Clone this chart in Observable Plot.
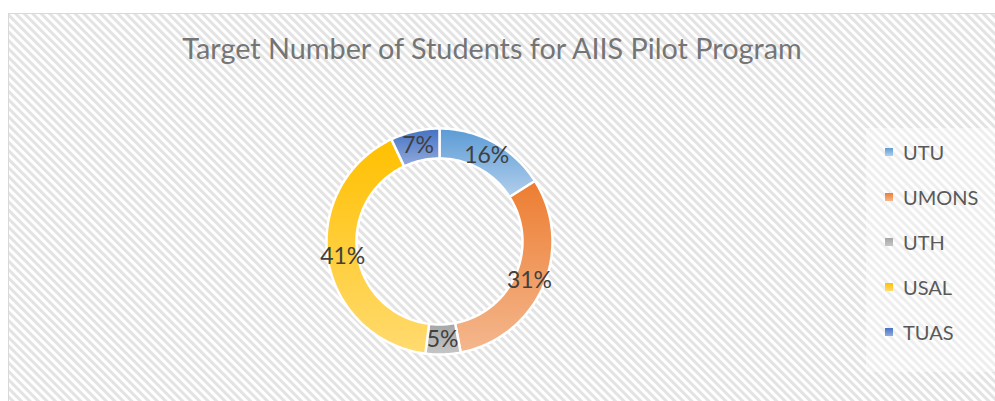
<!DOCTYPE html>
<html>
<head>
<meta charset="utf-8">
<script src="https://cdn.jsdelivr.net/npm/d3@7"></script>
<script src="https://cdn.jsdelivr.net/npm/@observablehq/plot@0.6"></script>
<style>
  body { margin: 0; background: #fff; }
  #wrap { position: relative; width: 995px; height: 401px; overflow: hidden; font-family: Lato, "Open Sans", sans-serif; }
  #legend { position: absolute; left: 885px; top: 129px; }
  .item { height: 45px; display: flex; align-items: center; }
  .sw { width: 8px; height: 8px; margin-right: 10px; }
  .lab { font-size: 20px; color: #595959; line-height: 1; }
</style>
</head>
<body>
<div id="wrap"><div id="legend"></div></div>
<script>
const categories = ["UTU", "UMONS", "UTH", "USAL", "TUAS"];
const shares = [16, 31, 5, 41, 7];
const baseColors = ["#5B9BD5", "#ED7D31", "#A5A5A5", "#FFC000", "#4472C4"];
const lightColors = ["#B2CFEC", "#F4B78E", "#C6C6C6", "#FFDB70", "#92AADC"];
const title = "Target Number of Students for AIIS Pilot Program";

const total = d3.sum(shares);
const arcs = d3.pie().sort(null).value(d => d)(shares);
const inner = 83 / 113;

const pts = [];
const labelData = [];
arcs.forEach((p, i) => {
  const span = p.endAngle - p.startAngle;
  const n = Math.max(4, Math.ceil(span / 0.02));
  const ring = [];
  for (let k = 0; k <= n; k++) { const a = p.startAngle + span * k / n; ring.push([Math.sin(a), Math.cos(a)]); }
  for (let k = n; k >= 0; k--) { const a = p.startAngle + span * k / n; ring.push([inner * Math.sin(a), inner * Math.cos(a)]); }
  ring.push(ring[0]);
  ring.forEach(([x, y]) => pts.push({cat: categories[i], x, y}));
  const mid = (p.startAngle + p.endAngle) / 2;
  const rm = (1 + inner) / 2;
  labelData.push({x: rm * Math.sin(mid), y: rm * Math.cos(mid), label: Math.round(100 * shares[i] / total) + "%"});
});

const defsMark = () => {
  const g = d3.create("svg:g");
  const defs = g.append("defs");
  const pat = defs.append("pattern").attr("id", "hatch").attr("patternUnits", "userSpaceOnUse")
    .attr("width", 6).attr("height", 6).attr("patternTransform", "rotate(-45)");
  pat.append("rect").attr("width", 6).attr("height", 6).attr("fill", "#fff");
  pat.append("rect").attr("width", 3).attr("height", 6).attr("fill", "#E3E3E3");
  categories.forEach((c, i) => {
    const lg = defs.append("linearGradient").attr("id", "g" + i).attr("x1", 0).attr("y1", 0).attr("x2", 0).attr("y2", 1);
    lg.append("stop").attr("offset", 0).attr("stop-color", baseColors[i]);
    lg.append("stop").attr("offset", 1).attr("stop-color", lightColors[i]);
  });
  g.append("rect").attr("x", 8.5).attr("y", 13.5).attr("width", 1000).attr("height", 400)
    .attr("fill", "url(#hatch)").attr("stroke", "#D9D9D9");
  g.append("rect").attr("x", 866).attr("y", 128).attr("width", 140).attr("height", 244)
    .attr("fill", "#fff").attr("fill-opacity", 0.4);
  return g.node();
};

const chart = Plot.plot({
  width: 995,
  height: 401,
  margin: 0,
  x: {domain: [-1, 1], range: [326, 552], axis: null},
  y: {domain: [-1, 1], range: [354, 128], axis: null},
  color: {domain: categories, range: categories.map((d, i) => `url(#g${i})`)},
  style: {background: "white", fontFamily: "Lato, 'Open Sans', sans-serif"},
  marks: [
    defsMark,
    Plot.line(pts, {x: "x", y: "y", z: "cat", fill: "cat", stroke: "white", strokeWidth: 2.5, strokeLinejoin: "miter"}),
    Plot.text(labelData, {x: "x", y: "y", text: "label", fontSize: 23, fill: "#404040"}),
    Plot.text([title], {frameAnchor: "top", dx: -6, dy: 58, lineAnchor: "bottom", fontSize: 28.8, fill: "#757575"})
  ]
});
document.getElementById("wrap").prepend(chart);

const legend = d3.select("#legend");
categories.forEach((c, i) => {
  const it = legend.append("div").attr("class", "item");
  it.append("div").attr("class", "sw").style("background", `linear-gradient(${baseColors[i]}, ${lightColors[i]})`);
  it.append("div").attr("class", "lab").text(c);
});
</script>
</body>
</html>
